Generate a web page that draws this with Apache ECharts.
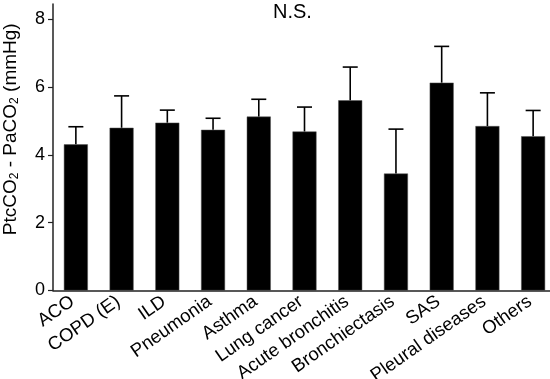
<!DOCTYPE html>
<html><head><meta charset="utf-8">
<script src="https://cdn.jsdelivr.net/npm/echarts@6/dist/echarts.min.js"></script>
<style>html,body{margin:0;padding:0;background:#fff}#c{width:550px;height:379px}</style>
</head><body><div id="c"></div>
<script>
const categories = ['ACO','COPD (E)','ILD','Pneumonia','Asthma','Lung cancer','Acute bronchitis','Bronchiectasis','SAS','Pleural diseases','Others'];
const means = [4.31, 4.80, 4.95, 4.74, 5.13, 4.69, 5.61, 3.45, 6.13, 4.85, 4.55];
const errors = [0.52, 0.94, 0.37, 0.34, 0.51, 0.72, 0.98, 1.31, 1.07, 0.98, 0.76];
const yTicks = [0, 2, 4, 6, 8];
const annotation = 'N.S.';

const chart = echarts.init(document.getElementById('c'));
const FONT = 'Liberation Sans, Arial, sans-serif';
chart.setOption({
  animation: false,
  grid: {left: 53, right: -6, top: 4, bottom: 88.5, containLabel: false, outerBoundsMode: 'none'},
  graphic: [{type: 'text', left: 273, top: 2, style: {text: annotation, font: '20px ' + FONT, fill: '#000'}}],
  xAxis: {
    type: 'category', data: categories,
    axisLine: {lineStyle: {color: '#222', width: 1.5}},
    axisTick: {show: false},
    axisLabel: {rotate: 35, fontSize: 18.5, fontFamily: FONT, color: '#000', margin: 7, interval: 0, padding: [0, 4, 0, 0]}
  },
  yAxis: {
    type: 'value', min: 0, max: 8.45, interval: 2,
    name: '{n|PtcCO}{s|2}{n| - PaCO}{s|2}{n| (mmHg)}',
    nameLocation: 'middle', nameGap: 32, nameRotate: 90, nameMoveOverlap: false,
    nameTextStyle: {padding: [0, 0, 0, 36], rich: {
      n: {fontSize: 19, fontFamily: FONT, color: '#000'},
      s: {fontSize: 12, fontFamily: FONT, color: '#000', verticalAlign: 'bottom', padding: [8, 0, 0, 0]}
    }},
    splitLine: {show: false},
    axisLine: {show: true, lineStyle: {color: '#222', width: 1.5}},
    axisTick: {show: true, length: 5, customValues: yTicks, lineStyle: {color: '#222', width: 1.2}},
    axisLabel: {customValues: yTicks, fontSize: 18, fontFamily: FONT, color: '#000', margin: 8}
  },
  series: [
    {type: 'bar', data: means, barWidth: 24, itemStyle: {color: '#000', borderColor: '#555', borderWidth: 0.5}},
    {type: 'custom', data: means.map((m, i) => [i, m, m + errors[i]]), z: 3,
     renderItem: function (params, api) {
       const x = api.coord([api.value(0), api.value(1)])[0];
       const y0 = api.coord([api.value(0), api.value(1)])[1];
       const y1 = api.coord([api.value(0), api.value(2)])[1];
       const st = {stroke: '#000', lineWidth: 1.6};
       return {type: 'group', children: [
         {type: 'line', shape: {x1: x, y1: y0, x2: x, y2: y1}, style: st},
         {type: 'line', shape: {x1: x - 7.5, y1: y1, x2: x + 7.5, y2: y1}, style: st}
       ]};
     }}
  ]
});
</script></body></html>
